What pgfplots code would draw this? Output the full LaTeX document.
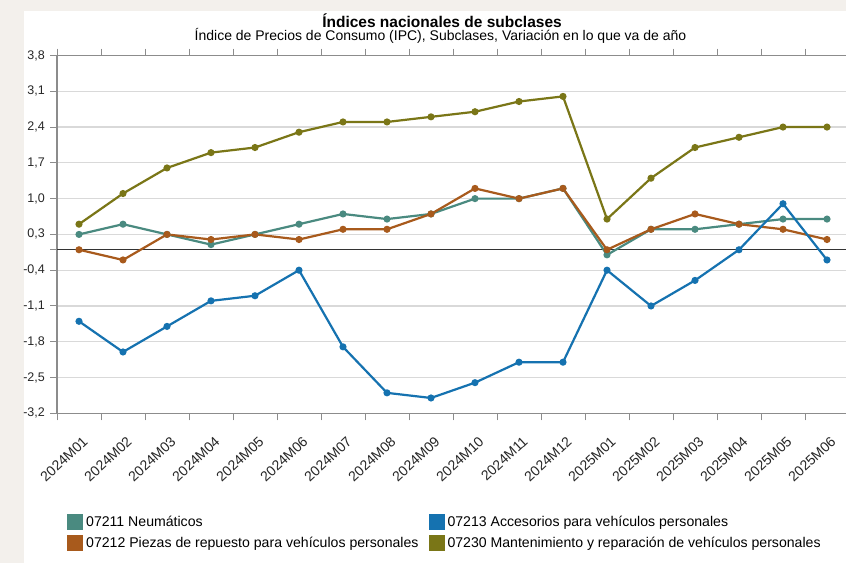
\documentclass[border=0pt]{standalone}
\usepackage{fontspec}
\setmainfont{Liberation Sans}
\usepackage{pgfplots}
\pgfplotsset{compat=1.18}
\definecolor{bgbeige}{HTML}{F3F0EC}
\definecolor{cteal}{HTML}{4A8A80}
\definecolor{cblue}{HTML}{1572B0}
\definecolor{corange}{HTML}{A85A1C}
\definecolor{colive}{HTML}{7A7617}
\definecolor{gridgray}{HTML}{D9D9D9}
\definecolor{axgray}{HTML}{8C8C8C}
\begin{document}
\begin{tikzpicture}
\useasboundingbox (0,0) rectangle (846pt,-563pt);
\fill[bgbeige] (0,0) rectangle (846pt,-563pt);
\fill[white] (24pt,-11pt) rectangle (846pt,-563pt);
\node[anchor=base, font=\bfseries\fontsize{15.5}{18}\selectfont] at (442pt,-27pt) {Índices nacionales de subclases};
\node[anchor=base, font=\fontsize{14}{16}\selectfont] at (440.5pt,-40.5pt) {Índice de Precios de Consumo (IPC), Subclases, Variación en lo que va de año};
\begin{axis}[
  at={(57pt,-413.3pt)}, anchor=south west,
  scale only axis, width=792pt, height=357.8pt,
  xmin=-0.5, xmax=17.5, ymin=-3.2, ymax=3.8,
  axis line style={draw=axgray, line width=1.5pt},
  tick align=outside,
  ytick={-3.2,-2.5,-1.8,-1.1,-0.4,0.3,1.0,1.7,2.4,3.1,3.8},
  yticklabels={{-3,2},{-2,5},{-1,8},{-1,1},{-0,4},{0,3},{1,0},{1,7},{2,4},{3,1},{3,8}},
  ymajorgrids, major grid style={draw=gridgray, line width=1.2pt},
  major tick length=7pt, minor tick length=7pt,
  y tick style={draw=axgray, line width=1pt},
  yticklabel style={font=\fontsize{12.5}{14}\selectfont, text=black!85, inner sep=0pt, xshift=-5pt},
  xtick={0,...,17},
  xticklabels={2024M01,2024M02,2024M03,2024M04,2024M05,2024M06,2024M07,2024M08,2024M09,2024M10,2024M11,2024M12,2025M01,2025M02,2025M03,2025M04,2025M05,2025M06},
  minor xtick={-0.5,0.5,...,17.5},
  major x tick style={draw=none},
  minor x tick style={draw=axgray, line width=1pt},
  xticklabel style={font=\fontsize{14}{16}\selectfont, text=black!85, inner sep=0pt, xshift=3pt, yshift=-15pt, rotate=43, anchor=north east},
  extra y ticks={0}, extra y tick labels={},
  extra y tick style={grid=major, major grid style={draw=black!80, line width=1pt}, tick style={draw=none}},
  legend columns=2, transpose legend,
  legend style={at={(0.0126,-0.279)}, anchor=north west, draw=none, fill=none,
    font=\fontsize{14.1}{16}\selectfont, row sep=3pt, inner sep=0pt,
    nodes={inner sep=3pt},
    /tikz/every even column/.append style={column sep=7pt}},
  legend cell align=left,
  legend image code/.code={\fill[#1,draw=none] (0pt,-7.5pt) rectangle (16pt,8pt);},
  every axis plot/.append style={line width=2.2pt, mark=*, mark size=2.4pt},
]
\addplot[color=cteal] coordinates {(0,0.3)(1,0.5)(2,0.3)(3,0.1)(4,0.3)(5,0.5)(6,0.7)(7,0.6)(8,0.7)(9,1.0)(10,1.0)(11,1.2)(12,-0.1)(13,0.4)(14,0.4)(15,0.5)(16,0.6)(17,0.6)};
\addlegendentry{07211 Neumáticos}
\addplot[color=corange] coordinates {(0,0.0)(1,-0.2)(2,0.3)(3,0.2)(4,0.3)(5,0.2)(6,0.4)(7,0.4)(8,0.7)(9,1.2)(10,1.0)(11,1.2)(12,0.0)(13,0.4)(14,0.7)(15,0.5)(16,0.4)(17,0.2)};
\addlegendentry{07212 Piezas de repuesto para vehículos personales}
\addplot[color=cblue] coordinates {(0,-1.4)(1,-2.0)(2,-1.5)(3,-1.0)(4,-0.9)(5,-0.4)(6,-1.9)(7,-2.8)(8,-2.9)(9,-2.6)(10,-2.2)(11,-2.2)(12,-0.4)(13,-1.1)(14,-0.6)(15,0.0)(16,0.9)(17,-0.2)};
\addlegendentry{07213 Accesorios para vehículos personales}
\addplot[color=colive] coordinates {(0,0.5)(1,1.1)(2,1.6)(3,1.9)(4,2.0)(5,2.3)(6,2.5)(7,2.5)(8,2.6)(9,2.7)(10,2.9)(11,3.0)(12,0.6)(13,1.4)(14,2.0)(15,2.2)(16,2.4)(17,2.4)};
\addlegendentry{07230 Mantenimiento y reparación de vehículos personales}
\end{axis}
\end{tikzpicture}
\end{document}
